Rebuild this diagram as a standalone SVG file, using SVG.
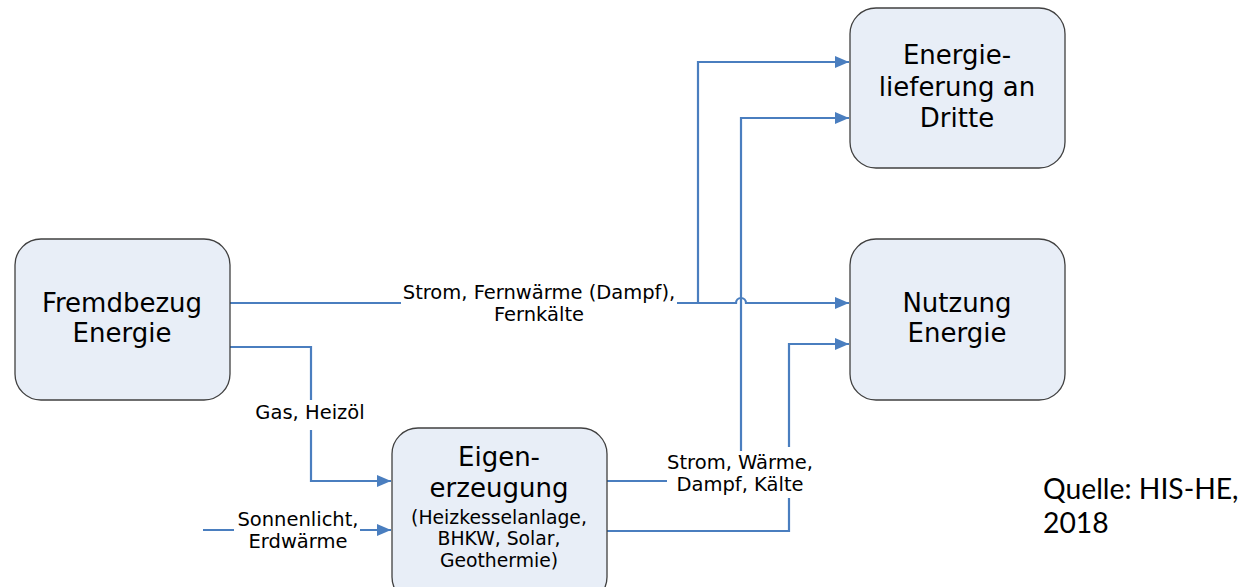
<svg xmlns="http://www.w3.org/2000/svg" width="1243" height="587" viewBox="0 0 1243 587">
<style>
.box{fill:#E8EEF7;stroke:#404040;stroke-width:1.3}
.bt{font-family:"DejaVu Sans",Verdana,sans-serif;font-size:26px;fill:#000;text-anchor:middle}
.st{font-family:"DejaVu Sans",Verdana,sans-serif;font-size:19.5px;fill:#000;text-anchor:middle}
.sb{font-family:"DejaVu Sans",Verdana,sans-serif;font-size:18.8px;fill:#000;text-anchor:middle}
.ln{fill:none;stroke:#4A7EBF;stroke-width:2.2}
.q{font-family:Lato,"Open Sans",sans-serif;font-size:28.3px;fill:#000}
</style>
<defs>
<marker id="ah" viewBox="0 0 14 12" refX="14" refY="6" markerWidth="14" markerHeight="12" markerUnits="userSpaceOnUse" orient="auto">
<path d="M0,0 L14,6 L0,12 Z" fill="#4A7EBF"/>
</marker>
</defs>
<rect width="1243" height="587" fill="#fff"/>
<g id="connectors">
<path class="ln" d="M230,303 H401 M677,303 H736 A5,5 0 0 1 746,303 H849" marker-end="url(#ah)"/>
<path class="ln" d="M698,303 V62 H849" marker-end="url(#ah)"/>
<path class="ln" d="M607,481 H667 M741,451 V118 H849" marker-end="url(#ah)"/>
<path class="ln" d="M607,531 H789 V498 M789,447 V344 H849" marker-end="url(#ah)"/>
<path class="ln" d="M230,347 H311 V400 M311,430 V481 H391" marker-end="url(#ah)"/>
<path class="ln" d="M203,530 H234 M360,530 H391" marker-end="url(#ah)"/>
<text class="st" x="539" y="299">Strom, Fernwärme (Dampf),</text>
<text class="st" x="539" y="321">Fernkälte</text>
<text class="st" x="310" y="419">Gas, Heizöl</text>
<text class="st" x="298" y="526">Sonnenlicht,</text>
<text class="st" x="298" y="548">Erdwärme</text>
<text class="st" x="740" y="469">Strom, Wärme,</text>
<text class="st" x="740" y="491">Dampf, Kälte</text>
</g>
<g id="fremdbezug">
<rect class="box" x="15" y="239" width="215" height="161" rx="26"/>
<text class="bt" x="122" y="312">Fremdbezug</text>
<text class="bt" x="122" y="342">Energie</text>
</g>
<g id="lieferung">
<rect class="box" x="850" y="8" width="215" height="160" rx="26"/>
<text class="bt" x="957" y="64">Energie-</text>
<text class="bt" x="957" y="96">lieferung an</text>
<text class="bt" x="957" y="127">Dritte</text>
</g>
<g id="nutzung">
<rect class="box" x="850" y="239" width="215" height="161" rx="26"/>
<text class="bt" x="957" y="312">Nutzung</text>
<text class="bt" x="957" y="342">Energie</text>
</g>
<g id="eigenerzeugung">
<rect class="box" x="392" y="428" width="215" height="175" rx="26"/>
<text class="bt" x="499" y="466">Eigen-</text>
<text class="bt" x="499" y="497">erzeugung</text>
<text class="sb" x="499" y="524">(Heizkesselanlage,</text>
<text class="sb" x="499" y="545">BHKW, Solar,</text>
<text class="sb" x="499" y="567">Geothermie)</text>
</g>
<g id="quelle">
<text class="q" x="1043" y="499">Quelle: HIS-HE,</text>
<text class="q" x="1043" y="533">2018</text>
</g>
</svg>
